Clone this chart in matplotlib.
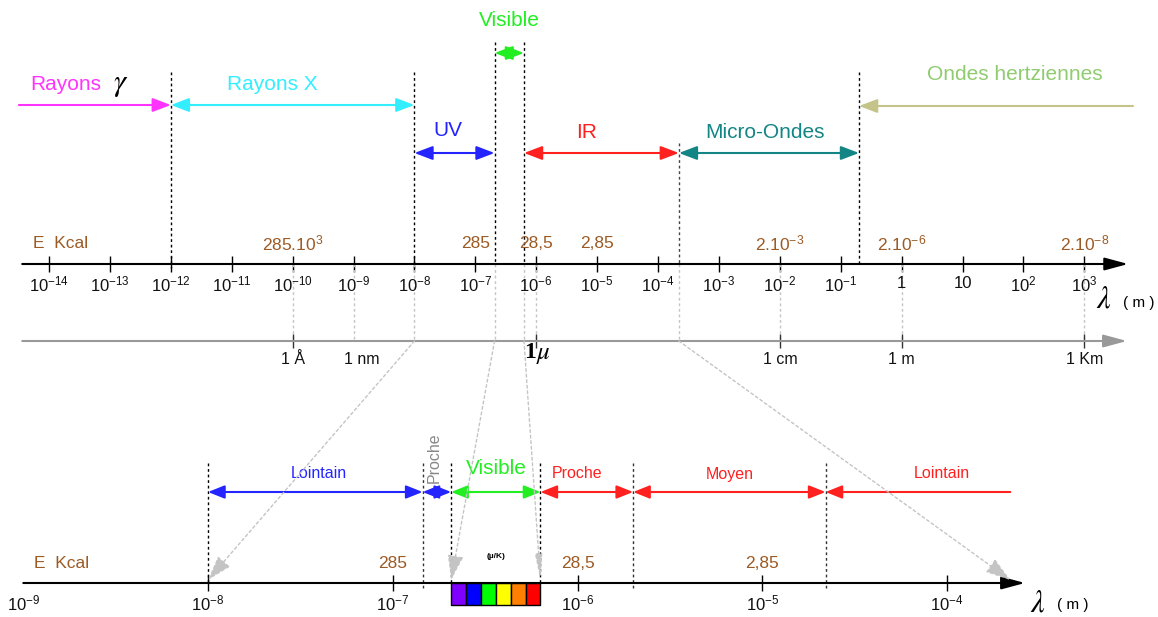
import matplotlib
matplotlib.use("Agg")
import matplotlib.pyplot as plt
import numpy as np
from matplotlib.patches import ConnectionPatch, Rectangle

plt.rcParams["font.family"] = ["Liberation Sans", "DejaVu Sans"]
plt.rcParams["mathtext.fontset"] = "custom"
plt.rcParams["mathtext.rm"] = "Liberation Sans"
plt.rcParams["mathtext.it"] = "Liberation Sans:italic"
plt.rcParams["mathtext.bf"] = "Liberation Sans:bold"

W, H = 1158, 617

# ---- main wavelength scale (metres) ---------------------------------------
main_ticks = [1e-14, 1e-13, 1e-12, 1e-11, 1e-10, 1e-9, 1e-8, 1e-7, 1e-6,
              1e-5, 1e-4, 1e-3, 1e-2, 1e-1, 1.0, 10.0, 1e2, 1e3]
main_tick_labels = [r"$\mathregular{10^{-14}}$", r"$\mathregular{10^{-13}}$",
                    r"$\mathregular{10^{-12}}$", r"$\mathregular{10^{-11}}$",
                    r"$\mathregular{10^{-10}}$", r"$\mathregular{10^{-9}}$",
                    r"$\mathregular{10^{-8}}$", r"$\mathregular{10^{-7}}$",
                    r"$\mathregular{10^{-6}}$", r"$\mathregular{10^{-5}}$",
                    r"$\mathregular{10^{-4}}$", r"$\mathregular{10^{-3}}$",
                    r"$\mathregular{10^{-2}}$", r"$\mathregular{10^{-1}}$",
                    "1", "10", r"$\mathregular{10^{2}}$", r"$\mathregular{10^{3}}$"]

# photon energy (kcal) written above some wavelengths
energy_main_at = [1e-10, 1e-7, 1e-6, 1e-5, 1e-2, 1.0, 1e3]
energy_main_labels = [r"$\mathregular{285.10^{3}}$", "285", "28,5", "2,85",
                      r"$\mathregular{2.10^{-3}}$", r"$\mathregular{2.10^{-6}}$",
                      r"$\mathregular{2.10^{-8}}$"]

# named units on the grey scale
unit_at = [1e-10, 1e-9, 1e-6, 1e-2, 1.0, 1e3]
unit_labels = ["1 Å", "1 nm", "1µ", "1 cm", "1 m", "1 Km"]

# spectral domains
band_names = ["Rayons", "Rayons X", "UV", "Visible", "IR", "Micro-Ondes",
              "Ondes hertziennes"]
band_lo = [3.2e-15, 1e-12, 1e-8, 2.07e-7, 6.3e-7, 2.2e-4, 0.2]
band_hi = [1e-12, 1e-8, 2.07e-7, 6.3e-7, 2.2e-4, 0.2, 6.3e3]

# ---- detail scale: UV / visible / IR --------------------------------------
detail_ticks = [1e-8, 1e-7, 1e-6, 1e-5, 1e-4]
detail_label_at = [1e-9, 1e-8, 1e-7, 1e-6, 1e-5, 1e-4]
detail_tick_labels = [r"$\mathregular{10^{-9}}$", r"$\mathregular{10^{-8}}$",
                      r"$\mathregular{10^{-7}}$", r"$\mathregular{10^{-6}}$",
                      r"$\mathregular{10^{-5}}$", r"$\mathregular{10^{-4}}$"]
energy_detail_at = [1e-7, 1e-6, 1e-5]
energy_detail_labels = ["285", "28,5", "2,85"]

sub_names = ["Lointain", "Proche", "Visible", "Proche", "Moyen", "Lointain"]
sub_lo = [1e-8, 1.45e-7, 2.07e-7, 6.3e-7, 2e-6, 2.2e-5]
sub_hi = [1.45e-7, 2.07e-7, 6.3e-7, 2e-6, 2.2e-5, 2.2e-4]

rainbow = ["#8000ff", "#0000ff", "#00ff00", "#ffff00", "#ff8000", "#ff0000"]

# ---- styling --------------------------------------------------------------
BROWN = "#9c5a24"
GREY = "#999999"
ZOOM = "#c4c4c4"
DOT = (0, (2, 2))

band_colors = ["#ff33ff", "#33eeff", "#2424ff", "#22ee22", "#ff2020",
               "#138585", "#c4c48a"]
band_text_colors = ["#ff33ff", "#33eeff", "#2424ff", "#22ee22", "#ff2020",
                    "#138585", "#8fcc70"]
band_y = [105, 105, 153, 53, 153, 153, 106]
band_heads = ["-|>", "<|-|>", "<|-|>", "<|-|>", "<|-|>", "<|-|>", "<|-"]
band_text_x = [1.9e-14, 4.6e-11, 3.5e-8, 3.6e-7, 6.8e-6, 5.8e-3, 72.0]
band_text_y = [85, 85, 130, 20, 132, 132, 75]

sub_colors = ["#2424ff", "#2424ff", "#22ee22", "#ff2020", "#ff2020", "#ff2020"]
sub_heads = ["<|-|>", "<|-|>", "<|-|>", "<|-|>", "<|-|>", "<|-"]
sub_text_x = [4.0e-8, 1.67e-7, 3.65e-7, 1.0e-6, 6.7e-6, 9.4e-5]
sub_text_y = [473, 458, 469, 473, 474, 474]
sub_text_size = [11.5, 11.5, 15, 11.5, 11.5, 11.5]

Y_MAIN, Y_GREY, Y_DET, Y_SUB = 264, 341, 583, 492


def hline_arrow(ax, x0, x1, y, color, style, lw=1.5, ms=11, hl=1.0, hw=0.38):
    ax.annotate("", xy=(x1, y), xytext=(x0, y),
                arrowprops=dict(arrowstyle=f"{style},head_length={hl},head_width={hw}",
                                color=color, lw=lw, shrinkA=0, shrinkB=0,
                                mutation_scale=ms))


fig = plt.figure(figsize=(W / 100, H / 100), dpi=100)
ax = fig.add_axes([0, 0, 1, 1])
axd = fig.add_axes([0, 0, 1, 1])
for a in (ax, axd):
    a.set_xscale("log")
    a.set_ylim(H, 0)
    a.axis("off")
axd.patch.set_visible(False)
ax.set_xlim(10 ** -14.805, 10 ** 4.21)
axd.set_xlim(10 ** -9.126, 10 ** -2.858)

# ---- upper part -----------------------------------------------------------
# domain boundaries
ax.vlines([1e-12, 1e-8, 0.2], [72, 72, 72], [268, 268, Y_MAIN],
          colors="black", lw=1, linestyles=DOT)
ax.vlines([2.07e-7, 6.3e-7], 42, Y_MAIN, colors="black", lw=1, linestyles=DOT)
ax.vlines([2.2e-4], 143, Y_MAIN, colors="#444444", lw=1, linestyles=DOT)

for name, lo, hi, c, tc, y, hd, tx, ty in zip(band_names, band_lo, band_hi,
                                               band_colors, band_text_colors,
                                               band_y, band_heads, band_text_x,
                                               band_text_y):
    hline_arrow(ax, lo, hi, y, c, hd)
    ax.text(tx, ty, name, color=tc, fontsize=15, ha="center", va="center")
ax.text(1.5e-13, 84, r"$\gamma$", math_fontfamily="stix", fontsize=22,
        color="black", ha="center", va="center")

# main axis
hline_arrow(ax, 10 ** -14.44, 10 ** 3.72, Y_MAIN, "black", "-|>", lw=1.5,
            ms=11, hl=1.3, hw=0.35)
ax.vlines(main_ticks, Y_MAIN - 8, Y_MAIN + 8, colors="black", lw=1)
for x, lab in zip(main_ticks, main_tick_labels):
    ax.text(x, 284, lab, fontsize=12, ha="center", va="center", color="#111111")
ax.text(10 ** 3.32, 299, r"$\lambda$", math_fontfamily="stix", fontsize=22,
        ha="center", va="center")
ax.text(10 ** 3.9, 303, "( m )", fontsize=11, ha="center", va="center")

ax.text(10 ** -14.26, 243, "E  Kcal", color=BROWN, fontsize=12.5,
        ha="left", va="center")
for x, lab in zip(energy_main_at, energy_main_labels):
    ax.text(x, 243, lab, color=BROWN, fontsize=12.5, ha="center", va="center")

# grey axis with named units
hline_arrow(ax, 10 ** -14.44, 10 ** 3.7, Y_GREY, GREY, "-|>", lw=1.5, ms=11,
            hl=1.3, hw=0.35)
ax.vlines(unit_at, Y_MAIN, Y_GREY, colors=ZOOM, lw=1, linestyles=DOT)
ticked = [u for u in unit_at if u != 1e-9]
ax.vlines(ticked, Y_GREY - 7, Y_GREY + 7, colors="#333333", lw=1)
for x, lab in zip(unit_at, unit_labels):
    if lab == "1µ":
        ax.text(x, 353, "1", math_fontfamily="stix", fontsize=17,
                family="Liberation Serif", weight="bold", ha="right", va="center")
        ax.text(x, 354, r"$\mu$", math_fontfamily="stix", fontsize=18,
                ha="left", va="center")
    else:
        dx = 1.35 if lab == "1 nm" else 1.0
        ax.text(x * dx, 360, lab, fontsize=11.5, ha="center", va="center",
                color="#111111")

# zoom guides to the detail scale
ax.vlines([1e-8, 2.07e-7, 6.3e-7, 2.2e-4], Y_MAIN, Y_GREY, colors=ZOOM, lw=1,
          linestyles=DOT)
for x, hw in zip([1e-8, 2.07e-7, 6.3e-7, 2.2e-4], [0.45, 0.45, 0.2, 0.45]):
    con = ConnectionPatch(xyA=(x, Y_GREY), xyB=(x, Y_DET - 3),
                          coordsA=ax.transData, coordsB=axd.transData,
                          arrowstyle=f"-|>,head_length=1.4,head_width={hw}",
                          mutation_scale=11, color=ZOOM, lw=1, linestyle=DOT,
                          shrinkA=0, shrinkB=0)
    fig.add_artist(con)

# ---- lower part -----------------------------------------------------------
axd.vlines([1e-8, 2.07e-7, 6.3e-7], 463, Y_DET, colors="black", lw=1,
           linestyles=DOT)
axd.vlines([1.45e-7, 2e-6, 2.2e-5], 463, 590, colors="#333333", lw=1,
           linestyles=DOT)

for name, lo, hi, c, hd, tx, ty, fs in zip(sub_names, sub_lo, sub_hi,
                                           sub_colors, sub_heads, sub_text_x,
                                           sub_text_y, sub_text_size):
    hline_arrow(axd, lo, hi, Y_SUB, c, hd, lw=1.5, ms=10, hl=1.0, hw=0.4)
    if name == "Proche" and c == "#2424ff":
        axd.text(tx, ty, name, color="#888888", fontsize=fs, rotation=90,
                 ha="center", va="center")
    else:
        axd.text(tx, ty, name, color=c, fontsize=fs, ha="center", va="center")

hline_arrow(axd, 10 ** -9.0, 10 ** -3.578, Y_DET, "black", "-|>", lw=1.5,
            ms=11, hl=1.3, hw=0.35)
axd.vlines(detail_ticks, Y_DET - 8, Y_DET + 8, colors="black", lw=1)
for x, lab in zip(detail_label_at, detail_tick_labels):
    axd.text(x, 603, lab, fontsize=12, ha="center", va="center", color="#111111")
axd.text(10 ** -3.51, 603, r"$\lambda$", math_fontfamily="stix", fontsize=22,
         ha="center", va="center")
axd.text(10 ** -3.32, 605, "( m )", fontsize=11, ha="center", va="center")

axd.text(10 ** -8.94, 564, "E  Kcal", color=BROWN, fontsize=12.5,
         ha="left", va="center")
for x, lab in zip(energy_detail_at, energy_detail_labels):
    axd.text(x, 564, lab, color=BROWN, fontsize=12.5, ha="center", va="center")

# visible colour strip
edges = np.geomspace(sub_lo[2], sub_hi[2], len(rainbow) + 1)
for c, x0, x1 in zip(rainbow, edges[:-1], edges[1:]):
    axd.add_patch(Rectangle((x0, Y_DET), x1 - x0, 22, facecolor=c,
                            edgecolor="black", lw=1))
axd.text(np.sqrt(sub_lo[2] * sub_hi[2]), 557, "(µ/K)", fontsize=6,
         weight="bold", ha="center", va="center")

fig.savefig("out.png", dpi=100)
